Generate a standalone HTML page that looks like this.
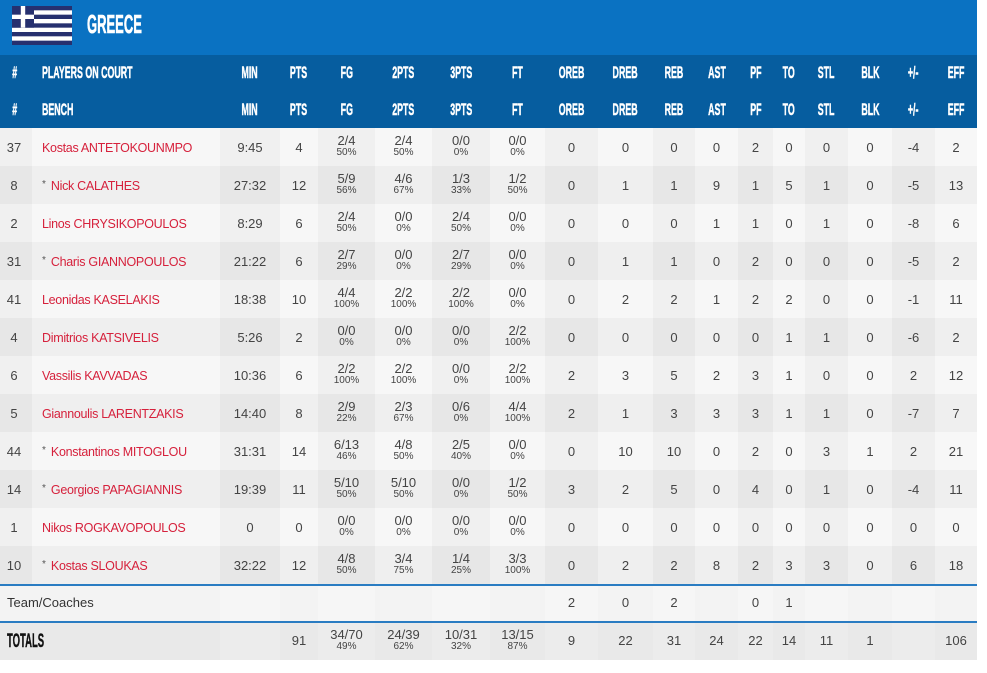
<!DOCTYPE html>
<html><head><meta charset="utf-8">
<style>
*{margin:0;padding:0;box-sizing:border-box;}
html,body{width:987px;height:673px;background:#fff;overflow:hidden;font-family:"Liberation Sans",sans-serif;}
#top{position:absolute;left:0;top:0;width:977px;height:55px;background:#0a72c2;}
#flag{position:absolute;left:12px;top:6px;}
#title{position:absolute;left:87px;top:9px;color:#fff;font-weight:bold;font-size:26px;line-height:30px;transform:scaleX(0.5);transform-origin:left center;white-space:nowrap;-webkit-text-stroke:0.6px #fff;}
table{position:absolute;left:0;top:55px;width:977px;table-layout:fixed;border-collapse:separate;border-spacing:0;}
td{padding:0;text-align:center;vertical-align:middle;font-size:13px;color:#444;white-space:nowrap;}
tr.hd td{background:#065d9f;color:#fff;font-weight:bold;font-size:17px;}
tr.hd td span{display:inline-block;transform:scaleX(0.52);transform-origin:center center;-webkit-text-stroke:0.5px #fff;}
tr.hd td.nm span{transform-origin:left center;}
tr.hd td:first-child{padding-right:2px;}
td.nm{text-align:left;padding-left:10px;}
tr.r td{height:38px;}
tr.o td{background:#f0f0f0;}
tr.o td:nth-child(even){background:#f7f7f7;}
tr.e td{background:#e7e7e7;}
tr.e td:nth-child(even){background:#efefef;}
tr.r td:first-child{padding-right:4px;}
.n{color:#d6213c;font-size:12.5px;letter-spacing:-0.3px;}
.st{color:#555;font-size:10px;position:relative;top:-3px;margin-right:5px;}
.f{font-size:13px;line-height:13px;}
.p{font-size:10px;line-height:11px;}
td.fr{padding-bottom:2px;}
tr.tm td{height:37px;background:#f6f6f6;box-shadow:inset 0 2px 0 #2a7cc2;}
tr.tm td:nth-child(odd){background:#f3f3f3;}
tr.tt td{height:39px;background:#e9e9e9;box-shadow:inset 0 2px 0 #2a7cc2;}
tr.tt td:nth-child(even){background:#ececec;}
td.lab{text-align:left;padding-left:7px !important;color:#333;}
.tot{display:inline-block;font-weight:bold;font-size:19px;color:#111;transform:scaleX(0.5);transform-origin:left center;position:relative;top:1px;-webkit-text-stroke:0.4px #111;}
</style></head><body>
<div id="top">
<svg id="flag" width="60" height="39" viewBox="0 0 60 39">
<rect width="60" height="39" fill="#26306f"/>
<g fill="#fff">
<rect y="4.33" width="60" height="4.33"/>
<rect y="13" width="60" height="4.33"/>
<rect y="21.67" width="60" height="4.33"/>
<rect y="30.33" width="60" height="4.33"/>
</g>
<rect width="22" height="21.67" fill="#26306f"/>
<rect x="8.8" y="0" width="4.4" height="21.67" fill="#fff"/>
<rect x="0" y="8.67" width="22" height="4.33" fill="#fff"/>
</svg>
<div id="title">GREECE</div>
</div>
<table>
<colgroup>
<col style="width:32px"><col style="width:188px"><col style="width:60px"><col style="width:38px"><col style="width:57px"><col style="width:57px"><col style="width:58px"><col style="width:55px"><col style="width:53px"><col style="width:55px"><col style="width:42px"><col style="width:43px"><col style="width:35px"><col style="width:32px"><col style="width:43px"><col style="width:44px"><col style="width:43px"><col style="width:42px">
</colgroup>
<tr class="hd" style="height:36px"><td><span>#</span></td><td class="nm"><span>PLAYERS ON COURT</span></td><td><span>MIN</span></td><td><span>PTS</span></td><td><span>FG</span></td><td><span>2PTS</span></td><td><span>3PTS</span></td><td><span>FT</span></td><td><span>OREB</span></td><td><span>DREB</span></td><td><span>REB</span></td><td><span>AST</span></td><td><span>PF</span></td><td><span>TO</span></td><td><span>STL</span></td><td><span>BLK</span></td><td><span>+/-</span></td><td><span>EFF</span></td></tr>
<tr class="hd" style="height:37px"><td><span>#</span></td><td class="nm"><span>BENCH</span></td><td><span>MIN</span></td><td><span>PTS</span></td><td><span>FG</span></td><td><span>2PTS</span></td><td><span>3PTS</span></td><td><span>FT</span></td><td><span>OREB</span></td><td><span>DREB</span></td><td><span>REB</span></td><td><span>AST</span></td><td><span>PF</span></td><td><span>TO</span></td><td><span>STL</span></td><td><span>BLK</span></td><td><span>+/-</span></td><td><span>EFF</span></td></tr>

<tr class="r o"><td>37</td><td class="nm"><span class="n">Kostas ANTETOKOUNMPO</span></td><td>9:45</td><td>4</td><td class="fr"><div class="f">2/4</div><div class="p">50%</div></td><td class="fr"><div class="f">2/4</div><div class="p">50%</div></td><td class="fr"><div class="f">0/0</div><div class="p">0%</div></td><td class="fr"><div class="f">0/0</div><div class="p">0%</div></td><td>0</td><td>0</td><td>0</td><td>0</td><td>2</td><td>0</td><td>0</td><td>0</td><td>-4</td><td>2</td></tr>
<tr class="r e"><td>8</td><td class="nm"><span class="st">*</span><span class="n">Nick CALATHES</span></td><td>27:32</td><td>12</td><td class="fr"><div class="f">5/9</div><div class="p">56%</div></td><td class="fr"><div class="f">4/6</div><div class="p">67%</div></td><td class="fr"><div class="f">1/3</div><div class="p">33%</div></td><td class="fr"><div class="f">1/2</div><div class="p">50%</div></td><td>0</td><td>1</td><td>1</td><td>9</td><td>1</td><td>5</td><td>1</td><td>0</td><td>-5</td><td>13</td></tr>
<tr class="r o"><td>2</td><td class="nm"><span class="n">Linos CHRYSIKOPOULOS</span></td><td>8:29</td><td>6</td><td class="fr"><div class="f">2/4</div><div class="p">50%</div></td><td class="fr"><div class="f">0/0</div><div class="p">0%</div></td><td class="fr"><div class="f">2/4</div><div class="p">50%</div></td><td class="fr"><div class="f">0/0</div><div class="p">0%</div></td><td>0</td><td>0</td><td>0</td><td>1</td><td>1</td><td>0</td><td>1</td><td>0</td><td>-8</td><td>6</td></tr>
<tr class="r e"><td>31</td><td class="nm"><span class="st">*</span><span class="n">Charis GIANNOPOULOS</span></td><td>21:22</td><td>6</td><td class="fr"><div class="f">2/7</div><div class="p">29%</div></td><td class="fr"><div class="f">0/0</div><div class="p">0%</div></td><td class="fr"><div class="f">2/7</div><div class="p">29%</div></td><td class="fr"><div class="f">0/0</div><div class="p">0%</div></td><td>0</td><td>1</td><td>1</td><td>0</td><td>2</td><td>0</td><td>0</td><td>0</td><td>-5</td><td>2</td></tr>
<tr class="r o"><td>41</td><td class="nm"><span class="n">Leonidas KASELAKIS</span></td><td>18:38</td><td>10</td><td class="fr"><div class="f">4/4</div><div class="p">100%</div></td><td class="fr"><div class="f">2/2</div><div class="p">100%</div></td><td class="fr"><div class="f">2/2</div><div class="p">100%</div></td><td class="fr"><div class="f">0/0</div><div class="p">0%</div></td><td>0</td><td>2</td><td>2</td><td>1</td><td>2</td><td>2</td><td>0</td><td>0</td><td>-1</td><td>11</td></tr>
<tr class="r e"><td>4</td><td class="nm"><span class="n">Dimitrios KATSIVELIS</span></td><td>5:26</td><td>2</td><td class="fr"><div class="f">0/0</div><div class="p">0%</div></td><td class="fr"><div class="f">0/0</div><div class="p">0%</div></td><td class="fr"><div class="f">0/0</div><div class="p">0%</div></td><td class="fr"><div class="f">2/2</div><div class="p">100%</div></td><td>0</td><td>0</td><td>0</td><td>0</td><td>0</td><td>1</td><td>1</td><td>0</td><td>-6</td><td>2</td></tr>
<tr class="r o"><td>6</td><td class="nm"><span class="n">Vassilis KAVVADAS</span></td><td>10:36</td><td>6</td><td class="fr"><div class="f">2/2</div><div class="p">100%</div></td><td class="fr"><div class="f">2/2</div><div class="p">100%</div></td><td class="fr"><div class="f">0/0</div><div class="p">0%</div></td><td class="fr"><div class="f">2/2</div><div class="p">100%</div></td><td>2</td><td>3</td><td>5</td><td>2</td><td>3</td><td>1</td><td>0</td><td>0</td><td>2</td><td>12</td></tr>
<tr class="r e"><td>5</td><td class="nm"><span class="n">Giannoulis LARENTZAKIS</span></td><td>14:40</td><td>8</td><td class="fr"><div class="f">2/9</div><div class="p">22%</div></td><td class="fr"><div class="f">2/3</div><div class="p">67%</div></td><td class="fr"><div class="f">0/6</div><div class="p">0%</div></td><td class="fr"><div class="f">4/4</div><div class="p">100%</div></td><td>2</td><td>1</td><td>3</td><td>3</td><td>3</td><td>1</td><td>1</td><td>0</td><td>-7</td><td>7</td></tr>
<tr class="r o"><td>44</td><td class="nm"><span class="st">*</span><span class="n">Konstantinos MITOGLOU</span></td><td>31:31</td><td>14</td><td class="fr"><div class="f">6/13</div><div class="p">46%</div></td><td class="fr"><div class="f">4/8</div><div class="p">50%</div></td><td class="fr"><div class="f">2/5</div><div class="p">40%</div></td><td class="fr"><div class="f">0/0</div><div class="p">0%</div></td><td>0</td><td>10</td><td>10</td><td>0</td><td>2</td><td>0</td><td>3</td><td>1</td><td>2</td><td>21</td></tr>
<tr class="r e"><td>14</td><td class="nm"><span class="st">*</span><span class="n">Georgios PAPAGIANNIS</span></td><td>19:39</td><td>11</td><td class="fr"><div class="f">5/10</div><div class="p">50%</div></td><td class="fr"><div class="f">5/10</div><div class="p">50%</div></td><td class="fr"><div class="f">0/0</div><div class="p">0%</div></td><td class="fr"><div class="f">1/2</div><div class="p">50%</div></td><td>3</td><td>2</td><td>5</td><td>0</td><td>4</td><td>0</td><td>1</td><td>0</td><td>-4</td><td>11</td></tr>
<tr class="r o"><td>1</td><td class="nm"><span class="n">Nikos ROGKAVOPOULOS</span></td><td>0</td><td>0</td><td class="fr"><div class="f">0/0</div><div class="p">0%</div></td><td class="fr"><div class="f">0/0</div><div class="p">0%</div></td><td class="fr"><div class="f">0/0</div><div class="p">0%</div></td><td class="fr"><div class="f">0/0</div><div class="p">0%</div></td><td>0</td><td>0</td><td>0</td><td>0</td><td>0</td><td>0</td><td>0</td><td>0</td><td>0</td><td>0</td></tr>
<tr class="r e"><td>10</td><td class="nm"><span class="st">*</span><span class="n">Kostas SLOUKAS</span></td><td>32:22</td><td>12</td><td class="fr"><div class="f">4/8</div><div class="p">50%</div></td><td class="fr"><div class="f">3/4</div><div class="p">75%</div></td><td class="fr"><div class="f">1/4</div><div class="p">25%</div></td><td class="fr"><div class="f">3/3</div><div class="p">100%</div></td><td>0</td><td>2</td><td>2</td><td>8</td><td>2</td><td>3</td><td>3</td><td>0</td><td>6</td><td>18</td></tr>

<tr class="tm"><td class="lab" colspan="2">Team/Coaches</td><td></td><td></td><td></td><td></td><td></td><td></td><td>2</td><td>0</td><td>2</td><td></td><td>0</td><td>1</td><td></td><td></td><td></td><td></td></tr>
<tr class="tt"><td class="lab" colspan="2"><span class="tot">TOTALS</span></td><td></td><td>91</td><td class="fr"><div class="f">34/70</div><div class="p">49%</div></td><td class="fr"><div class="f">24/39</div><div class="p">62%</div></td><td class="fr"><div class="f">10/31</div><div class="p">32%</div></td><td class="fr"><div class="f">13/15</div><div class="p">87%</div></td><td>9</td><td>22</td><td>31</td><td>24</td><td>22</td><td>14</td><td>11</td><td>1</td><td></td><td>106</td></tr>
</table>
</body></html>
